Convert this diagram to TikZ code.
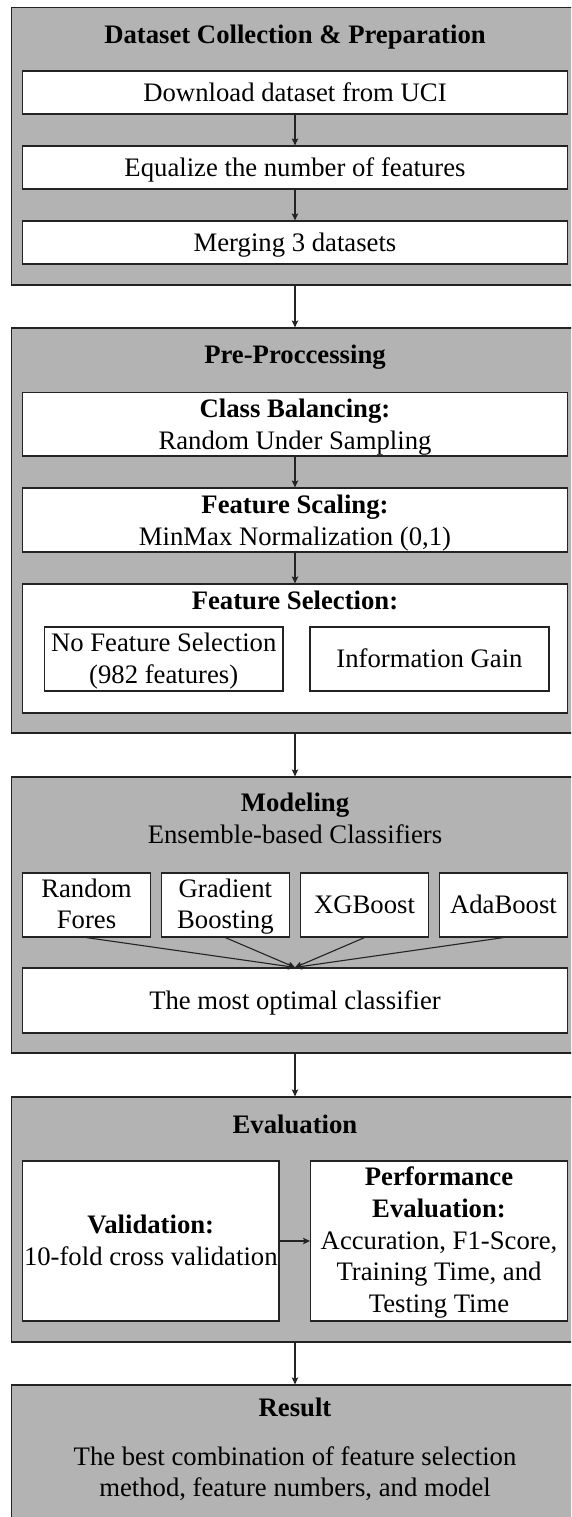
\documentclass[tikz,border=0pt]{standalone}
\usepackage{fontspec}
\setmainfont{Liberation Serif}
\usetikzlibrary{arrows.meta}
\definecolor{boxgray}{RGB}{179,179,179}
\definecolor{edgec}{RGB}{35,35,35}
\tikzset{
 outerbox/.style={draw=edgec, fill=boxgray, line width=1.2pt, inner sep=0pt, minimum width=567.4pt},
 innerbox/.style={draw=edgec, fill=white, line width=1.2pt, inner sep=0pt},
 widebox/.style={innerbox, minimum width=544.8pt},
 txt/.style={anchor=base, inner sep=0pt, font=\fontsize{26.7}{31.7}\selectfont},
 btxt/.style={anchor=base, inner sep=0pt, font=\fontsize{26.7}{31.7}\selectfont\bfseries},
 conn/.style={draw=edgec, line width=1.1pt, -{Stealth[length=7pt,width=6.5pt,inset=1.5pt]}}
}
\begin{document}
\begin{tikzpicture}[x=1pt,y=-1pt]
\useasboundingbox (0,0) rectangle (571,1517);
\clip (0,0) rectangle (571,1517);

% ---------- Box 1 ----------
\node[outerbox, minimum height=277.7pt] (b1) at (295,146.15) {};
\node[btxt] (t1) at (295,43.3) {Dataset Collection \& Preparation};
\node[widebox, minimum height=43pt] (dl) at (295,92.5) {};
\node[txt] (tdl) at (295,101.7) {Download dataset from UCI};
\node[widebox, minimum height=43pt] (eq) at (295,167.5) {};
\node[txt] (teq) at (295,176.4) {Equalize the number of features};
\node[widebox, minimum height=43pt] (mg) at (295,242.5) {};
\node[txt] (tmg) at (295,251) {Merging 3 datasets};
\draw[conn] (dl.south) -- (eq.north);
\draw[conn] (eq.south) -- (mg.north);

% ---------- Box 2 ----------
\node[outerbox, minimum height=405pt] (b2) at (295,530.5) {};
\node[btxt] (t2) at (295,363.3) {Pre-Proccessing};
\node[widebox, minimum height=63.7pt] (cb) at (295,424.15) {};
\node[btxt] (tcb1) at (295,417.3) {Class Balancing:};
\node[txt] (tcb2) at (295,449) {Random Under Sampling};
\node[widebox, minimum height=64pt] (fs) at (295,520) {};
\node[btxt] (tfs1) at (295,513.3) {Feature Scaling:};
\node[txt] (tfs2) at (295,545) {MinMax Normalization (0,1)};
\node[widebox, minimum height=129pt] (fsel) at (295,648.5) {};
\node[btxt] (tfsel) at (295,609.3) {Feature Selection:};
\node[innerbox, minimum width=238.6pt, minimum height=64pt] (nofs) at (163.7,659) {};
\node[txt] (tnofs1) at (163.7,651.7) {No Feature Selection};
\node[txt] (tnofs2) at (163.7,683.4) {(982 features)};
\node[innerbox, minimum width=239pt, minimum height=64pt] (ig) at (429.5,659) {};
\node[txt] (tig) at (429.5,667.8) {Information Gain};
\draw[conn] (cb.south) -- (fs.north);
\draw[conn] (fs.south) -- (fsel.north);
\draw[conn] (b1.south) -- (b2.north);

% ---------- Box 3 ----------
\node[outerbox, minimum height=276pt] (b3) at (295,915) {};
\node[btxt] (t3) at (295,811.7) {Modeling};
\node[txt] (t3b) at (295,843.4) {Ensemble-based Classifiers};
\node[innerbox, minimum width=127.8pt, minimum height=64pt] (rf) at (86.5,905) {};
\node[txt] (trf1) at (86.5,897.2) {Random};
\node[txt] (trf2) at (86.5,928.9) {Fores};
\node[innerbox, minimum width=128.2pt, minimum height=64pt] (gb) at (225.4,905) {};
\node[txt] (tgb1) at (225.4,897.2) {Gradient};
\node[txt] (tgb2) at (225.4,928.9) {Boosting};
\node[innerbox, minimum width=128.2pt, minimum height=64pt] (xg) at (364.5,905) {};
\node[txt] (txg) at (364.5,913.8) {XGBoost};
\node[innerbox, minimum width=127.9pt, minimum height=64pt] (ada) at (503.45,905) {};
\node[txt] (tada) at (503.45,913.8) {AdaBoost};
\node[widebox, minimum height=65pt] (opt) at (295,1000.5) {};
\node[txt] (topt) at (295,1009.6) {The most optimal classifier};
\draw[conn] (rf.south) -- (opt.north);
\draw[conn] (gb.south) -- (opt.north);
\draw[conn] (xg.south) -- (opt.north);
\draw[conn] (ada.south) -- (opt.north);
\draw[conn] (b2.south) -- (b3.north);

% ---------- Box 4 ----------
\node[outerbox, minimum height=245pt] (b4) at (295,1219.5) {};
\node[btxt] (t4) at (295,1133.3) {Evaluation};
\node[innerbox, minimum width=256.4pt, minimum height=160pt] (val) at (150.8,1241) {};
\node[btxt] (tval1) at (150.8,1233.4) {Validation:};
\node[txt] (tval2) at (150.8,1265.1) {10-fold cross validation};
\node[innerbox, minimum width=256.8pt, minimum height=160pt] (perf) at (439,1241) {};
\node[btxt] (tp1) at (439,1185.6) {Performance};
\node[btxt] (tp2) at (439,1217.3) {Evaluation:};
\node[txt] (tp3) at (439,1249) {Accuration, F1-Score,};
\node[txt] (tp4) at (439,1280.7) {Training Time, and};
\node[txt] (tp5) at (439,1312.4) {Testing Time};
\draw[conn] (val.east) -- (perf.west);
\draw[conn] (b3.south) -- (b4.north);

% ---------- Box 5 ----------
\node[outerbox, minimum height=145pt] (b5) at (295,1457.5) {};
\node[btxt] (t5) at (295,1416.7) {Result};
\node[txt] (tr1) at (295,1465) {The best combination of feature selection};
\node[txt] (tr2) at (295,1496.7) {method, feature numbers, and model};
\draw[conn] (b4.south) -- (b5.north);
\end{tikzpicture}
\end{document}
